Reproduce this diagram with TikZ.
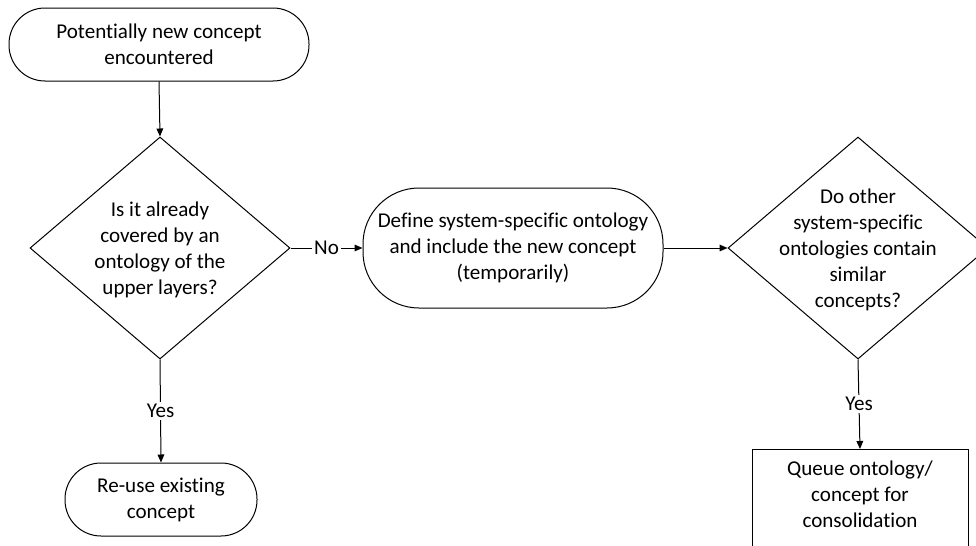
\documentclass[tikz,border=0pt]{standalone}
\usepackage{fontspec}
\setmainfont[Ligatures=NoCommon]{Carlito}
\usetikzlibrary{shapes.geometric,arrows.meta}
\begin{document}
\begin{tikzpicture}[x=0.75pt,y=-0.75pt,
  every node/.style={font=\fontsize{15.8pt}{19.5pt}\selectfont, inner sep=0pt},
  line/.style={line width=0.75pt, draw=black},
  flow/.style={line, -{Triangle[length=6pt,width=5pt]}},
  terminal/.style={line, rectangle, align=center},
  decision/.style={line, diamond, minimum width=195pt, minimum height=166.5pt},
  txt/.style={align=center},
  lbl/.style={fill=white, inner sep=1.5pt}]
\useasboundingbox (0,0) rectangle (976,546);
\clip (0,0) rectangle (976,546);

% start terminal
\node[terminal, minimum width=225pt, minimum height=54.75pt, rounded corners=27pt]
  (start) at (159,44.5) {Potentially new concept\\encountered};

% first decision
\node[decision] (d1) at (160,248) {};
\node[txt] (d1t) at (160,250) {Is it already\\covered by an\\ontology of the\\upper layers?};

% system-specific ontology step
\node[terminal, minimum width=225pt, minimum height=90pt, rounded corners=42pt]
  (define) at (513,248) {Define system-specific ontology\\and include the new concept\\(temporarily)};

% second decision
\node[decision] (d2) at (858,248) {};
\node[txt] (d2t) at (858,250) {Do other\\system-specific\\ontologies contain\\similar\\concepts?};

% re-use terminal
\node[terminal, minimum width=144pt, minimum height=54.75pt, rounded corners=27pt]
  (reuse) at (161,499.5) {Re-use existing\\concept};

% queue box (runs past the lower edge)
\node[line, rectangle, anchor=north, minimum width=162pt, minimum height=90pt]
  (queue) at (860,449) {};
\node[txt] (queuet) at (860,494) {Queue ontology/\\concept for\\consolidation};

% connectors
\draw[flow] (start.south) -- (d1.north);
\draw[flow] (d1.east) -- node[lbl] (no) {No} (define.west);
\draw[flow] (define.east) -- (d2.west);
\draw[flow] (d1.south) -- node[lbl] (yes1) {Yes} (reuse.north);
\draw[flow] (d2.south) -- node[lbl] (yes2) {Yes} (queue.north);
\end{tikzpicture}
\end{document}
